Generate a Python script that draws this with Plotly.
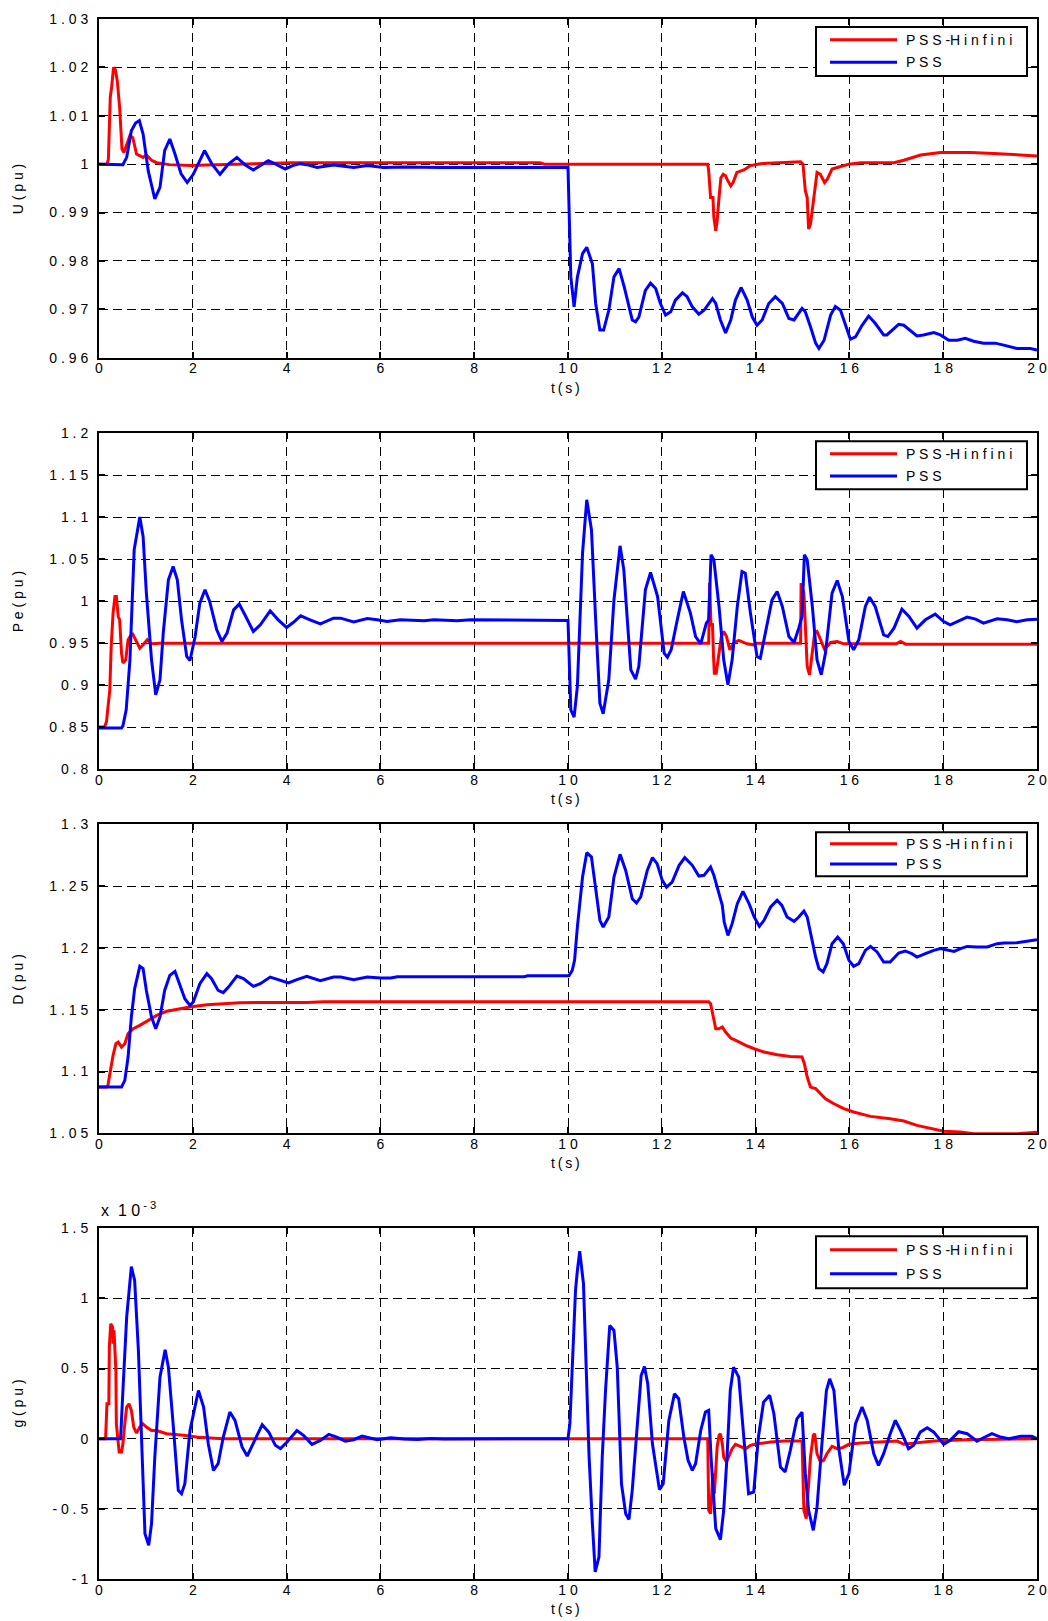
import plotly.graph_objects as go

# ---------------- data ----------------
# Terminal voltage U (pu)
t_u_hinf = [0, 0.17, 0.2, 0.24, 0.27, 0.31, 0.35, 0.39, 0.44, 0.49, 0.53, 0.59, 0.66, 0.72, 0.8, 0.94,
            1.01, 1.12, 1.23, 1.5, 1.95, 2.3, 3.0, 4.1, 9.4, 9.5, 10.0, 12.98, 13.0, 13.04, 13.09, 13.11,
            13.15, 13.18, 13.22, 13.26, 13.31, 13.36, 13.39, 13.47, 13.52, 13.6, 13.75, 13.89, 14.1, 14.46,
            14.96, 15.01, 15.06, 15.1, 15.13, 15.17, 15.24, 15.28, 15.31, 15.38, 15.47, 15.53, 15.63, 15.74,
            15.99, 16.24, 16.95, 17.16, 17.52, 17.94, 18.58, 19.08, 19.57, 20.0]
u_hinf = [1.0, 1.0, 1.001, 1.0138, 1.016, 1.020, 1.0195, 1.0172, 1.0117, 1.0031, 1.0024, 1.0041, 1.0059,
          1.0055, 1.0021, 1.0014, 1.0019, 1.0008, 1.0003, 0.9999, 0.9997, 0.9998, 1.0, 1.0003, 1.0003, 1.0,
          1.0, 1.0, 0.9986, 0.9931, 0.9931, 0.989, 0.9862, 0.9883, 0.9931, 0.9972, 0.9979, 0.9976, 0.9969,
          0.9955, 0.9962, 0.9983, 0.9988, 0.9997, 1.0001, 1.0003, 1.0005, 1.0, 0.9945, 0.9931, 0.9866,
          0.9876, 0.9931, 0.9972, 0.9983, 0.9979, 0.9962, 0.9969, 0.999, 0.9993, 1.0, 1.0003, 1.0003,
          1.0008, 1.0019, 1.0024, 1.0024, 1.0022, 1.0019, 1.0017]

t_u_pss = [0, 0.45, 0.51, 0.59, 0.69, 0.78, 0.86, 0.94, 1.05, 1.19, 1.3, 1.4, 1.51, 1.62, 1.75, 1.88, 2.01,
           2.25, 2.41, 2.58, 2.76, 2.94, 3.12, 3.29, 3.45, 3.61, 3.79, 3.97, 4.13, 4.29, 4.47, 4.65, 5.0,
           5.43, 5.72, 6.07, 6.5, 7.3, 9.98, 10.0, 10.06, 10.13, 10.2, 10.31, 10.4, 10.52, 10.59, 10.68,
           10.76, 10.87, 10.98, 11.09, 11.2, 11.37, 11.44, 11.51, 11.65, 11.76, 11.87, 11.97, 12.08, 12.19,
           12.29, 12.44, 12.54, 12.65, 12.79, 12.9, 13.08, 13.15, 13.25, 13.36, 13.47, 13.57, 13.69, 13.82,
           13.93, 14.03, 14.14, 14.28, 14.42, 14.57, 14.71, 14.82, 14.99, 15.06, 15.17, 15.28, 15.35, 15.46,
           15.6, 15.7, 15.81, 15.95, 16.02, 16.13, 16.27, 16.41, 16.55, 16.73, 16.8, 17.05, 17.16, 17.44,
           17.58, 17.8, 17.94, 18.12, 18.3, 18.47, 18.65, 18.86, 19.11, 19.29, 19.57, 19.86, 20.0]
u_pss = [1.0, 1.0, 0.9999, 1.0014, 1.0069, 1.0085, 1.009, 1.0062, 0.9986, 0.9928, 0.9952, 1.0028, 1.0052,
         1.0021, 0.998, 0.9962, 0.9979, 1.0028, 1.0, 0.9979, 1.0, 1.0014, 0.9998, 0.9988, 0.9998, 1.0007,
         0.9999, 0.999, 0.9997, 1.0001, 0.9998, 0.9993, 0.9998, 0.9993, 0.9997, 0.9993, 0.9994, 0.9993,
         0.9993, 0.9993, 0.9767, 0.9705, 0.9767, 0.9815, 0.9828, 0.9794, 0.9712, 0.9657, 0.9657, 0.9698,
         0.9767, 0.9784, 0.9746, 0.9678, 0.9674, 0.9684, 0.9739, 0.9754, 0.9743, 0.9712, 0.9688, 0.9695,
         0.9719, 0.9734, 0.9726, 0.9705, 0.969, 0.9698, 0.9722, 0.9712, 0.9678, 0.9651, 0.9678, 0.9719,
         0.9745, 0.9719, 0.9684, 0.9667, 0.9678, 0.9712, 0.9726, 0.9712, 0.9681, 0.9678, 0.9702, 0.9695,
         0.9664, 0.963, 0.9619, 0.9636, 0.9688, 0.9706, 0.9698, 0.9657, 0.9638, 0.9643, 0.9667, 0.9686,
         0.9671, 0.9647, 0.9647, 0.9669, 0.9667, 0.9645, 0.9647, 0.9652, 0.9647, 0.9636, 0.9636, 0.964,
         0.9634, 0.963, 0.963, 0.9626, 0.9619, 0.9619, 0.9616]

# Electrical power Pe (pu)
t_pe_hinf = [0, 0.12, 0.16, 0.21, 0.23, 0.26, 0.3, 0.34, 0.37, 0.41, 0.44, 0.48, 0.51, 0.57, 0.62, 0.71, 0.8,
             0.87, 0.94, 1.03, 1.12, 1.3, 13.0, 13.02, 13.05, 13.08, 13.1, 13.12, 13.16, 13.22, 13.27, 13.32,
             13.38, 13.45, 13.53, 13.64, 13.82, 13.96, 14.03, 14.96, 14.97, 15.03, 15.06, 15.1, 15.15, 15.2,
             15.26, 15.31, 15.38, 15.47, 15.6, 15.74, 15.88, 17.0, 17.09, 17.2, 20.0]
pe_hinf = [0.85, 0.85, 0.8566, 0.8904, 0.8944, 0.946, 0.9858, 1.0056, 1.0056, 0.9818, 0.9778, 0.9381, 0.9262,
           0.9301, 0.954, 0.9619, 0.952, 0.944, 0.948, 0.954, 0.9492, 0.95, 0.95, 1.0215, 0.9699, 0.9738,
           0.9381, 0.9142, 0.9142, 0.9381, 0.9579, 0.9639, 0.9579, 0.9421, 0.95, 0.9532, 0.9492, 0.948, 0.95,
           0.95, 1.0215, 1.0096, 0.9778, 0.9222, 0.9123, 0.9381, 0.9619, 0.9639, 0.954, 0.9428, 0.9508,
           0.952, 0.9492, 0.9492, 0.952, 0.9488, 0.9488]

t_pe_pss = [0, 0.48, 0.51, 0.58, 0.66, 0.75, 0.87, 0.94, 1.01, 1.12, 1.21, 1.3, 1.37, 1.48, 1.58, 1.67, 1.76,
            1.87, 1.94, 2.05, 2.15, 2.26, 2.36, 2.51, 2.62, 2.73, 2.87, 2.99, 3.11, 3.29, 3.44, 3.65, 3.82,
            4.0, 4.14, 4.3, 4.5, 4.72, 5.0, 5.15, 5.43, 5.72, 5.93, 6.14, 6.43, 6.93, 7.14, 7.64, 7.93, 9.99,
            10.0, 10.06, 10.13, 10.2, 10.31, 10.4, 10.5, 10.59, 10.68, 10.75, 10.87, 10.98, 11.11, 11.19,
            11.34, 11.44, 11.51, 11.65, 11.76, 11.91, 12.05, 12.12, 12.2, 12.33, 12.46, 12.61, 12.72, 12.83,
            12.95, 13.0, 13.05, 13.11, 13.22, 13.32, 13.41, 13.5, 13.61, 13.71, 13.78, 13.89, 14.03, 14.1,
            14.21, 14.35, 14.46, 14.57, 14.71, 14.82, 14.92, 14.99, 15.04, 15.1, 15.21, 15.31, 15.4, 15.49,
            15.63, 15.74, 15.85, 15.99, 16.09, 16.2, 16.34, 16.43, 16.55, 16.73, 16.82, 16.95, 17.12, 17.27,
            17.44, 17.62, 17.83, 18.01, 18.15, 18.33, 18.51, 18.69, 18.86, 19.15, 19.36, 19.57, 19.79, 20.0]
pe_pss = [0.849, 0.849, 0.8515, 0.8705, 0.9301, 1.0612, 1.1002, 1.0771, 1.0096, 0.9301, 0.8884, 0.9063,
          0.9619, 1.0255, 1.0414, 1.0255, 0.9778, 0.9341, 0.9293, 0.9579, 0.9977, 1.0136, 0.9997, 0.9659,
          0.952, 0.9619, 0.9897, 0.9965, 0.9838, 0.9639, 0.9719, 0.9885, 0.9778, 0.9687, 0.9746, 0.9826,
          0.9778, 0.973, 0.9798, 0.9798, 0.9754, 0.9794, 0.9778, 0.9758, 0.9778, 0.9766, 0.9778, 0.9766,
          0.9778, 0.977, 0.977, 0.8705, 0.8618, 0.8984, 1.0573, 1.1208, 1.0851, 0.9778, 0.8785, 0.8658,
          0.9063, 1.0016, 1.066, 1.0374, 0.9182, 0.9071, 0.9222, 1.0136, 1.0342, 1.0056, 0.9381, 0.9333,
          0.9421, 0.9778, 1.0116, 0.9858, 0.9579, 0.9492, 0.9738, 0.9778, 1.0553, 1.0493, 0.9937, 0.9301,
          0.9003, 0.9301, 0.9937, 1.0354, 1.0334, 0.9858, 0.9341, 0.9321, 0.9619, 1.0016, 1.0116, 0.9937,
          0.9579, 0.9508, 0.9679, 0.9818, 1.0553, 1.0493, 0.9937, 0.9301, 0.9123, 0.9381, 1.0096, 1.0247,
          1.0056, 0.952, 0.942, 0.954, 0.9937, 1.0048, 0.9937, 0.9599, 0.9579, 0.9679, 0.9905, 0.9818,
          0.9679, 0.9778, 0.9846, 0.9758, 0.9719, 0.9766, 0.981, 0.9786, 0.9738, 0.979, 0.9778, 0.9754,
          0.9778, 0.9786]

# D (pu)
t_d_hinf = [0, 0.16, 0.19, 0.23, 0.26, 0.3, 0.36, 0.41, 0.48, 0.55, 0.62, 0.73, 0.87, 1.05, 1.23, 1.44, 1.65,
            1.94, 2.3, 2.65, 3.0, 4.43, 4.8, 10.0, 13.0, 13.04, 13.08, 13.11, 13.15, 13.22, 13.29, 13.36,
            13.47, 13.61, 13.79, 13.97, 14.18, 14.46, 14.74, 14.99, 15.04, 15.1, 15.17, 15.28, 15.38, 15.49,
            15.67, 15.88, 16.09, 16.45, 16.87, 17.16, 17.44, 17.73, 18.01, 18.36, 18.65, 19.57, 20.0]
d_hinf = [1.0874, 1.0874, 1.0888, 1.0982, 1.1063, 1.1131, 1.1225, 1.1238, 1.1198, 1.1225, 1.1306, 1.1346,
          1.1373, 1.1414, 1.1454, 1.1487, 1.1503, 1.1522, 1.154, 1.1549, 1.1557, 1.1559, 1.1565, 1.1565,
          1.1565, 1.1549, 1.1468, 1.1414, 1.1346, 1.1346, 1.136, 1.1319, 1.1271, 1.1246, 1.1211, 1.1184,
          1.1157, 1.1136, 1.1122, 1.1117, 1.1063, 1.0955, 1.0874, 1.0861, 1.082, 1.078, 1.0739, 1.0699,
          1.0672, 1.0637, 1.0618, 1.0599, 1.0564, 1.0537, 1.0516, 1.051, 1.0497, 1.0497, 1.0508]

t_d_pss = [0, 0.48, 0.55, 0.62, 0.69, 0.76, 0.87, 0.94, 1.01, 1.12, 1.21, 1.3, 1.4, 1.51, 1.62, 1.72, 1.83,
           1.94, 2.01, 2.15, 2.3, 2.4, 2.54, 2.65, 2.76, 2.94, 3.08, 3.29, 3.44, 3.65, 3.86, 4.04, 4.22, 4.43,
           4.72, 5.0, 5.15, 5.43, 5.72, 6.0, 6.22, 6.36, 9.07, 9.14, 10.02, 10.09, 10.14, 10.2, 10.31, 10.4,
           10.5, 10.59, 10.68, 10.75, 10.87, 10.98, 11.11, 11.23, 11.37, 11.46, 11.55, 11.69, 11.8, 11.9,
           12.01, 12.1, 12.22, 12.37, 12.49, 12.65, 12.79, 12.9, 13.04, 13.11, 13.22, 13.29, 13.33, 13.41,
           13.5, 13.61, 13.73, 13.86, 13.97, 14.08, 14.18, 14.32, 14.46, 14.56, 14.67, 14.82, 14.92, 15.03,
           15.1, 15.17, 15.28, 15.35, 15.44, 15.52, 15.63, 15.75, 15.87, 15.99, 16.09, 16.2, 16.34, 16.45,
           16.59, 16.73, 16.87, 17.05, 17.19, 17.33, 17.44, 17.62, 17.8, 17.94, 18.12, 18.23, 18.37, 18.51,
           18.72, 18.94, 19.15, 19.29, 19.57, 19.79, 20.0]
d_pss = [1.0874, 1.0874, 1.0928, 1.1117, 1.1441, 1.167, 1.1851, 1.1832, 1.1656, 1.1441, 1.1346, 1.1441,
         1.1656, 1.1778, 1.181, 1.171, 1.1589, 1.1535, 1.1562, 1.171, 1.1791, 1.1751, 1.1656, 1.1638, 1.1683,
         1.1772, 1.1751, 1.1689, 1.171, 1.1764, 1.1737, 1.1716, 1.1743, 1.177, 1.1735, 1.1764, 1.1764,
         1.1743, 1.1764, 1.1756, 1.1756, 1.1767, 1.1767, 1.1775, 1.1775, 1.1818, 1.1899, 1.2169, 1.2573,
         1.277, 1.2735, 1.2465, 1.2223, 1.2169, 1.225, 1.2573, 1.2757, 1.2627, 1.2398, 1.2363, 1.2412,
         1.2627, 1.273, 1.2681, 1.2546, 1.2492, 1.2533, 1.2668, 1.273, 1.2668, 1.2581, 1.2587, 1.2654,
         1.2587, 1.2439, 1.2344, 1.2209, 1.2101, 1.2196, 1.2358, 1.2457, 1.2358, 1.225, 1.2174, 1.2223,
         1.2331, 1.2385, 1.2344, 1.225, 1.2215, 1.225, 1.2298, 1.225, 1.2115, 1.1926, 1.1832, 1.1805,
         1.1872, 1.2034, 1.2088, 1.2034, 1.1899, 1.1851, 1.1872, 1.198, 1.2012, 1.1967, 1.1886, 1.1886,
         1.1958, 1.1975, 1.1953, 1.1926, 1.1953, 1.198, 1.1994, 1.198, 1.1972, 1.1994, 1.2012, 1.2007,
         1.2007, 1.2034, 1.2039, 1.2042, 1.2056, 1.2066]

# g (pu), in units of 1e-3
t_g_hinf = [0, 0.14, 0.17, 0.21, 0.22, 0.25, 0.29, 0.3, 0.32, 0.36, 0.37, 0.41, 0.43, 0.48, 0.51, 0.55, 0.59,
            0.64, 0.69, 0.74, 0.8, 0.87, 0.93, 1.01, 1.12, 1.23, 1.44, 1.8, 2.08, 2.37, 2.65, 12.98, 13.0,
            13.04, 13.09, 13.12, 13.16, 13.18, 13.22, 13.25, 13.29, 13.32, 13.38, 13.43, 13.5, 13.57, 13.68,
            13.79, 13.89, 14.03, 14.32, 14.61, 14.99, 15.03, 15.08, 15.13, 15.17, 15.23, 15.26, 15.31, 15.38,
            15.45, 15.52, 15.63, 15.74, 15.85, 15.99, 16.24, 16.73, 17.02, 17.16, 17.37, 17.8, 18.51, 20.0]
g_hinf = [0, 0, 0.249, 0.249, 0.653, 0.819, 0.795, 0.677, 0.772, 0.487, 0.107, -0.036, -0.095, -0.095,
          -0.036, 0.107, 0.226, 0.249, 0.202, 0.083, 0.04, 0.083, 0.107, 0.083, 0.059, 0.059, 0.036, 0.024,
          0.012, 0.005, 0, 0, -0.51, -0.534, -0.249, -0.392, -0.178, -0.059, 0.024, 0.036, -0.036, -0.131,
          -0.166, -0.131, -0.071, -0.04, -0.055, -0.071, -0.047, -0.036, -0.024, -0.017, -0.017, -0.51,
          -0.57, -0.297, -0.131, 0.024, 0.036, -0.107, -0.166, -0.154, -0.107, -0.055, -0.071, -0.064,
          -0.04, -0.031, -0.024, -0.017, -0.04, -0.031, -0.017, -0.007, 0]

t_g_pss = [0, 0.46, 0.51, 0.59, 0.69, 0.76, 0.84, 0.91, 0.98, 1.06, 1.12, 1.19, 1.3, 1.41, 1.48, 1.58, 1.69,
           1.76, 1.83, 1.94, 2.05, 2.12, 2.23, 2.33, 2.44, 2.54, 2.65, 2.79, 2.9, 3.05, 3.16, 3.29, 3.48, 3.62,
           3.76, 3.87, 4.01, 4.22, 4.36, 4.54, 4.72, 4.9, 5.07, 5.25, 5.43, 5.61, 5.79, 5.93, 6.22, 6.5, 6.79,
           7.07, 7.35, 10.0, 10.04, 10.09, 10.16, 10.2, 10.25, 10.33, 10.38, 10.45, 10.52, 10.58, 10.66,
           10.73, 10.8, 10.85, 10.89, 10.98, 11.05, 11.14, 11.23, 11.3, 11.37, 11.48, 11.56, 11.63, 11.7,
           11.8, 11.89, 11.95, 12.03, 12.15, 12.27, 12.36, 12.47, 12.56, 12.65, 12.72, 12.83, 12.93, 13.0,
           13.05, 13.15, 13.25, 13.32, 13.39, 13.46, 13.53, 13.64, 13.75, 13.85, 13.96, 14.06, 14.17, 14.3,
           14.39, 14.53, 14.63, 14.74, 14.88, 14.99, 15.06, 15.13, 15.23, 15.31, 15.42, 15.51, 15.58, 15.67,
           15.77, 15.89, 15.99, 16.13, 16.27, 16.38, 16.52, 16.62, 16.73, 16.87, 16.98, 17.09, 17.26, 17.37,
           17.51, 17.66, 17.8, 18.01, 18.15, 18.33, 18.51, 18.72, 18.86, 19.04, 19.22, 19.4, 19.65, 19.89,
           20.0]
g_pss = [0, 0, 0.344, 0.867, 1.227, 1.128, 0.629, 0.036, -0.677, -0.76, -0.605, -0.131, 0.439, 0.634, 0.51,
         0.107, -0.368, -0.392, -0.321, 0.059, 0.249, 0.344, 0.226, -0.036, -0.226, -0.178, 0.012, 0.19,
         0.131, -0.059, -0.123, -0.036, 0.1, 0.047, -0.047, -0.071, -0.024, 0.059, 0.024, -0.04, -0.012,
         0.031, 0.012, -0.017, -0.007, 0.019, 0.005, -0.007, 0.007, -0.002, -0.005, 0.002, -0.002, 0, 0.107,
         0.51, 1.057, 1.199, 1.337, 1.104, 0.534, -0.131, -0.605, -0.95, -0.843, -0.131, 0.344, 0.653, 0.807,
         0.772, 0.51, -0.321, -0.534, -0.575, -0.368, 0.107, 0.451, 0.515, 0.392, -0.036, -0.249, -0.363,
         -0.321, 0.131, 0.321, 0.285, 0.012, -0.154, -0.226, -0.178, 0.059, 0.19, 0.202, -0.131, -0.641,
         -0.719, -0.51, -0.131, 0.344, 0.51, 0.439, -0.012, -0.392, -0.38, 0.012, 0.261, 0.309, 0.178,
         -0.202, -0.237, -0.083, 0.142, 0.19, -0.249, -0.51, -0.653, -0.487, -0.012, 0.344, 0.427, 0.344,
         -0.059, -0.332, -0.249, 0.107, 0.226, 0.131, -0.107, -0.19, -0.107, 0.036, 0.131, 0.059, -0.071,
         -0.047, 0.047, 0.078, 0.047, -0.04, -0.012, 0.05, 0.036, -0.017, 0.007, 0.036, 0.012, 0.0, 0.017,
         0.017, 0]

# axis ticks and labels
t_ticks = [0, 2, 4, 6, 8, 10, 12, 14, 16, 18, 20]
u_ticks = [0.96, 0.97, 0.98, 0.99, 1.0, 1.01, 1.02, 1.03]
pe_ticks = [0.8, 0.85, 0.9, 0.95, 1.0, 1.05, 1.1, 1.15, 1.2]
d_ticks = [1.05, 1.1, 1.15, 1.2, 1.25, 1.3]
g_ticks = [-1, -0.5, 0, 0.5, 1, 1.5]
y_titles = ["U ( p u )", "P e ( p u )", "D ( p u )", "g ( p u )"]
series_names = ["P S S -H i n f i n i", "P S S"]

RED = "#ff0000"
BLUE = "#0000ff"
FONT = "Liberation Sans, Arial, sans-serif"


def spaced(v):
    return " ".join(f"{v:g}")


panels = [
    (t_u_hinf, u_hinf, t_u_pss, u_pss, u_ticks, [0.7829, 1.0], 49),
    (t_pe_hinf, pe_hinf, t_pe_pss, pe_pss, pe_ticks, [0.5192, 0.7344], 48),
    (t_d_hinf, d_hinf, t_d_pss, d_pss, d_ticks, [0.2857, 0.4838], 44),
    (t_g_hinf, g_hinf, t_g_pss, g_pss, g_ticks, [0.0, 0.2248], 52),
]

fig = go.Figure()
layout = dict(
    width=1048, height=1621,
    margin=dict(l=99, r=11, t=19, b=42, autoexpand=False),
    paper_bgcolor="white", plot_bgcolor="white",
    font=dict(family=FONT, size=14, color="black"),
    showlegend=False,
)
shapes = []
annotations = []

for i, (tx_r, y_r, tx_b, y_b, yt, dom, leg_h) in enumerate(panels):
    n = "" if i == 0 else str(i + 1)
    xa, ya = "x" + n, "y" + n
    fig.add_trace(go.Scatter(x=tx_r, y=y_r, mode="lines", name=series_names[0],
                             line=dict(color=RED, width=3), xaxis=xa, yaxis=ya))
    fig.add_trace(go.Scatter(x=tx_b, y=y_b, mode="lines", name=series_names[1],
                             line=dict(color=BLUE, width=3), xaxis=xa, yaxis=ya))
    common = dict(showline=True, linecolor="black", linewidth=2, mirror="ticks",
                  ticks="inside", ticklen=6, tickwidth=1.5, tickcolor="black", automargin=False,
                  showgrid=True, gridcolor="black", gridwidth=1.2, griddash="9px,5px",
                  zeroline=False, tickfont=dict(family=FONT, size=14, color="black"))
    layout["xaxis" + n] = dict(common, anchor=ya, domain=[0, 1], range=[0, 20],
                               tickvals=t_ticks, ticktext=[spaced(v) for v in t_ticks],
                               ticklabelstandoff=-3)
    layout["yaxis" + n] = dict(common, anchor=xa, domain=dom, range=[yt[0], yt[-1]],
                               tickvals=yt, ticktext=[spaced(v) for v in yt], ticklabelstandoff=6)

    # x-axis label and y-axis label
    annotations.append(dict(text="t\u2009(\u2009s\u2009)", xref=xa + " domain", yref=ya + " domain",
                            x=0.5, y=0, xanchor="center", yanchor="middle", yshift=-30, xshift=-3,
                            showarrow=False, font=dict(size=14)))
    annotations.append(dict(text=y_titles[i], xref="paper", yref=ya + " domain", x=-0.0864, y=0.5,
                            xanchor="center", yanchor="middle", textangle=-90, showarrow=False,
                            font=dict(size=14)))

    # legend box in the upper-right corner
    top = -8
    bot = top - leg_h
    y_red = top - 0.26 * leg_h
    y_blue = top - 0.72 * leg_h
    box = dict(xref=xa + " domain", yref=ya + " domain", xsizemode="pixel", ysizemode="pixel",
               xanchor=1, yanchor=1)
    shapes.append(dict(box, type="rect", x0=-221, x1=-10, y0=bot, y1=top,
                       line=dict(color="black", width=2), fillcolor="white", layer="above"))
    for yy, col, name in [(y_red, RED, series_names[0]), (y_blue, BLUE, series_names[1])]:
        shapes.append(dict(box, type="line", x0=-207, x1=-140, y0=yy, y1=yy,
                           line=dict(color=col, width=3), layer="above"))
        annotations.append(dict(text=name, xref=xa + " domain", yref=ya + " domain", x=1, y=1,
                                xshift=-133, yshift=yy, xanchor="left", yanchor="middle",
                                showarrow=False, font=dict(size=14)))

# exponent note of the g axis
annotations.append(dict(text="x&nbsp; 1 0<sup> - 3</sup>", xref="x4 domain", yref="y4 domain", x=0, y=1,
                        xanchor="left", yanchor="middle", yshift=19, showarrow=False,
                        font=dict(size=16)))

layout["shapes"] = shapes
layout["annotations"] = annotations
fig.update_layout(layout)
fig.write_html("out.html")
